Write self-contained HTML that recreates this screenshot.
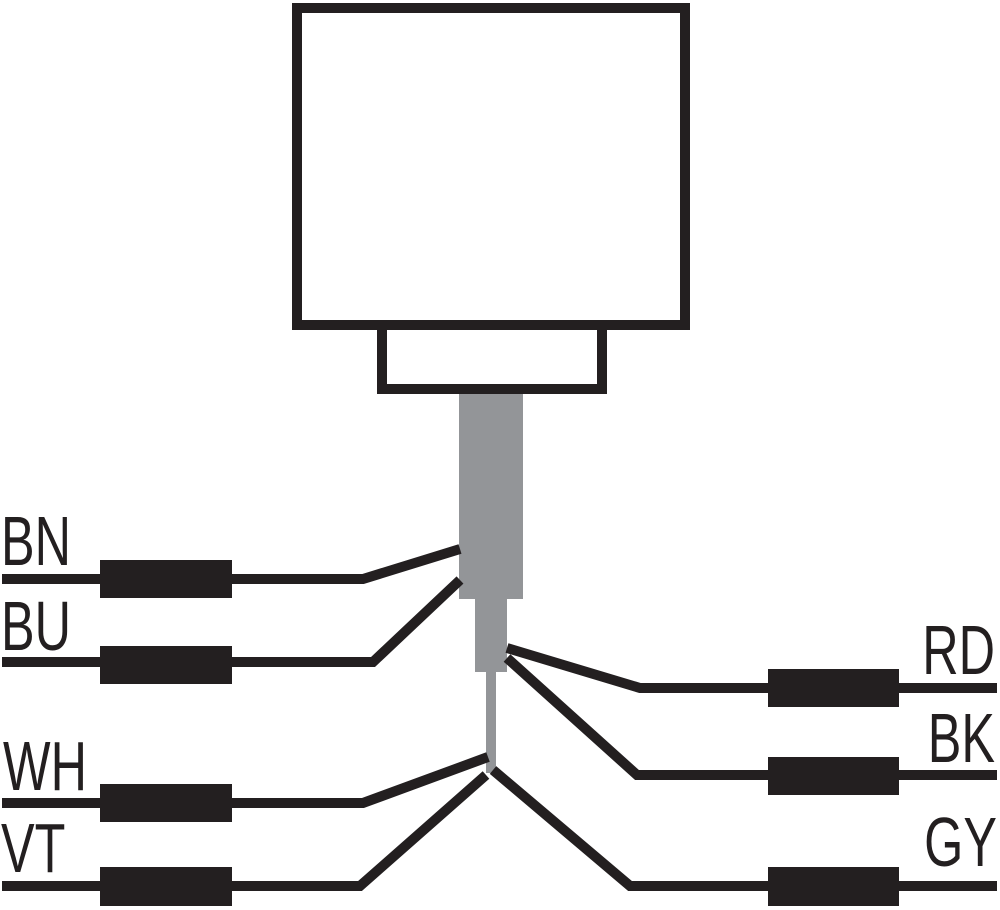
<!DOCTYPE html>
<html><head><style>
html,body{margin:0;padding:0;background:#fff;}
svg{display:block}
text{font-family:"Liberation Sans",sans-serif;font-size:70px;fill:#231f20;}
</style></head><body>
<svg width="1000" height="910" viewBox="0 0 1000 910" xmlns="http://www.w3.org/2000/svg">
<rect x="297" y="8" width="388" height="317" fill="#fff" stroke="#231f20" stroke-width="10"/>
<rect x="382" y="325" width="220" height="64" fill="#fff" stroke="#231f20" stroke-width="10"/>
<rect x="459" y="394" width="64" height="205" fill="#939598"/>
<rect x="475" y="599" width="32" height="73" fill="#939598"/>
<rect x="486" y="672" width="10" height="101" fill="#939598"/>
<g fill="none" stroke="#231f20" stroke-width="10" stroke-linejoin="miter">
<polyline points="2,579 363,579 460,549"/>
<polyline points="2,662 373,662 460,580"/>
<polyline points="2,803 363,803 488,757"/>
<polyline points="2,886 360,886 486,775"/>
<polyline points="997,688 640,688 507,648"/>
<polyline points="997,775 637,775 507,658"/>
<polyline points="997,886 630,886 493,770"/>
</g>
<g fill="#231f20">
<rect x="100" y="560" width="132" height="38"/>
<rect x="100" y="646" width="132" height="38"/>
<rect x="100" y="784" width="132" height="38"/>
<rect x="100" y="867" width="132" height="39"/>
<rect x="768" y="669" width="131" height="38"/>
<rect x="768" y="757" width="131" height="38"/>
<rect x="768" y="867" width="131" height="39"/>
</g>
<text transform="translate(1,565) scale(0.72,1)">BN</text>
<text transform="translate(1,650) scale(0.72,1)">BU</text>
<text transform="translate(3,790) scale(0.72,1)">WH</text>
<text transform="translate(1,872) scale(0.72,1)">VT</text>
<text transform="translate(995,674) scale(0.72,1)" text-anchor="end">RD</text>
<text transform="translate(995,762) scale(0.72,1)" text-anchor="end">BK</text>
<text transform="translate(997,866) scale(0.72,1)" text-anchor="end">GY</text>
</svg>
</body></html>
